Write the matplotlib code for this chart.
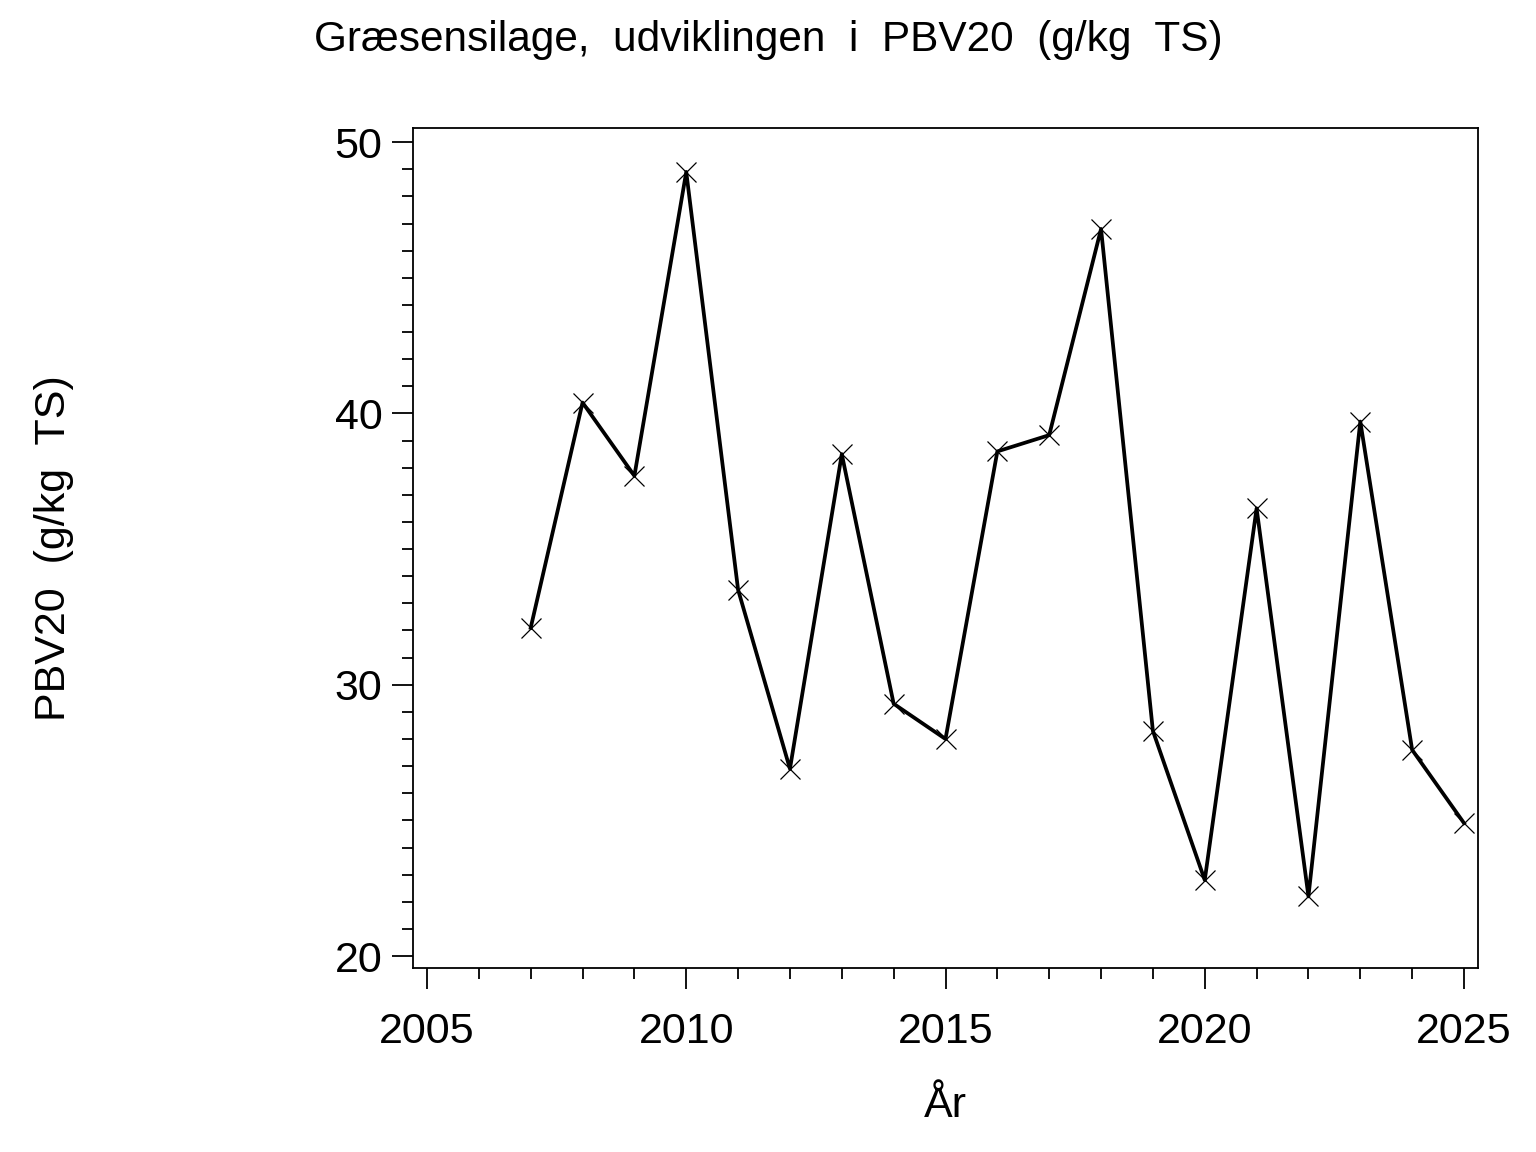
import numpy as np
import matplotlib.pyplot as plt
from matplotlib.ticker import MultipleLocator

plt.rcParams['font.family'] = ['Liberation Sans', 'DejaVu Sans']

# PBV20 per year
years = [2007, 2008, 2009, 2010, 2011, 2012, 2013, 2014, 2015, 2016,
         2017, 2018, 2019, 2020, 2021, 2022, 2023, 2024, 2025]
pbv20 = [32.1, 40.4, 37.7, 48.9, 33.5, 26.9, 38.5, 29.3, 28.0, 38.6,
         39.2, 46.8, 28.3, 22.8, 36.5, 22.2, 39.7, 27.6, 24.9]

fig = plt.figure(figsize=(15.36, 11.52), dpi=100)
ax = fig.add_axes([413/1536, 1 - 968/1152, (1478-413)/1536, (968-128)/1152])

ax.plot(years, pbv20, color='black', lw=2.7, marker='x', ms=15, mew=0.9)

ax.set_xlim(2004.73, 2025.27)
ax.set_ylim(19.56, 50.52)
ax.xaxis.set_major_locator(MultipleLocator(5))
ax.xaxis.set_minor_locator(MultipleLocator(1))
ax.yaxis.set_major_locator(MultipleLocator(10))
ax.yaxis.set_minor_locator(MultipleLocator(1))

ax.tick_params(which='major', length=15, width=1.3, labelsize=31, pad=7)
ax.tick_params(which='minor', length=8, width=1.3)
ax.tick_params(axis='x', pad=17)
for s in ax.spines.values():
    s.set_linewidth(1.3)

ax.set_xlabel('År', fontsize=31, labelpad=24)
ax.set_ylabel('PBV20  (g/kg  TS)', fontsize=31, labelpad=0)
ax.yaxis.set_label_coords(-0.318, 0.5)

fig.text(0.5, 0.965, 'Græsensilage,  udviklingen  i  PBV20  (g/kg  TS)',
         ha='center', va='center', fontsize=30.5)

fig.savefig('out.png', dpi=100)
plt.close('all')
